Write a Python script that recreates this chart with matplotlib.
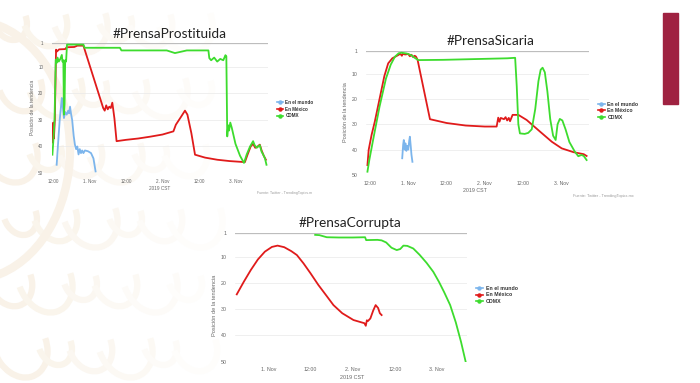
import matplotlib.pyplot as plt
from matplotlib.lines import Line2D
from matplotlib.patches import Arc, Rectangle

plt.rcParams['font.family'] = ['Liberation Sans', 'DejaVu Sans']

# horas contadas desde 2019-10-31 00:00 CST, posicion de la tendencia (1 = arriba)
series_names = ['En el mundo', 'En México', 'CDMX']
series_colors = ['#7cb5ec', '#e01b1b', '#3ddc2e']

# ---- #PrensaProstituida
pros_mundo_h = [13.2, 13.6, 14.2, 14.9, 15.2, 15.6, 16.0, 16.5, 17.0, 17.3, 17.6, 17.9,
                18.3, 18.8, 19.2, 19.6, 20.0, 20.4, 20.8, 21.2, 21.6, 22.0, 22.5, 23.5,
                24.5, 25.3, 26.0]
pros_mundo_pos = [46.9, 40, 30, 21.7, 25, 29.3, 27, 28, 26.5, 27.5, 25, 27.5,
                  30, 36, 39.3, 41, 40, 43, 41, 42.5, 41.5, 42.5, 41.5, 41.8,
                  42.5, 44.5, 49.4]
pros_mx_h = [11.9, 12.1, 12.3, 12.6, 13.0, 13.3, 14.0, 16.0, 16.5, 19.0, 20.0, 22.0,
             28.5, 29.0, 29.5, 30.0, 30.5, 31.0, 31.5, 31.8, 32.2, 32.9, 36, 40, 44, 48,
             51.6, 52.4, 54.0, 55.4, 56.2, 57.5, 58.7, 62, 66, 70, 75.1,
             76.0, 77.0, 77.8, 78.5, 79.3, 80.0, 80.6, 81.3, 82.0]
pros_mx_pos = [38.5, 31, 37, 30, 3.5, 4.2, 3.4, 3.3, 2.6, 2.5, 2.0, 2.0,
               25.5, 26.5, 24.5, 26, 25, 25.5, 23.5, 26, 29.5, 38, 37.5, 37, 36.3, 35.5,
               34.3, 31.8, 29, 26.5, 28, 35, 43.1, 44.2, 45, 45.5, 45.9,
               43, 40, 39, 40.5, 40, 39.3, 41.5, 43.5, 45]
pros_cdmx_h = [11.8, 12.1, 12.5, 12.9, 13.2, 13.5, 13.9, 14.4, 14.9, 15.1, 15.4, 15.6,
               15.8, 16.0, 16.3, 16.6, 22.0, 22.4, 34.0, 34.5, 49.4, 52.1, 56.0, 63.1,
               63.4, 64.0, 65.0, 66.0, 67.0, 68.0, 68.7, 69.0, 69.3, 69.6, 69.9, 70.3,
               70.8, 72.0, 73.5, 74.8, 75.7, 76.8, 77.8, 78.3, 79.0, 80.0, 80.6, 81.1,
               81.7, 82.2]
pros_cdmx_pos = [43.1, 38, 30, 7.3, 8.5, 6.5, 8, 7, 5.5, 8, 7.5, 28,
                 24, 7.5, 8, 1.6, 1.6, 2.8, 2.8, 3.8, 3.8, 4.8, 3.8, 3.8,
                 6.7, 7.5, 6.5, 8, 7, 7.5, 5.6, 6, 36.2, 32, 34, 31,
                 33, 39, 43.5, 46.2, 43, 40, 38, 39.5, 40.5, 39.5, 42, 43,
                 44.5, 46.9]

# ---- #PrensaSicaria
sic_mundo_h = [22.1, 22.4, 22.6, 22.9, 23.1, 23.4, 23.7, 24.0, 24.3, 24.5, 24.8, 25.0, 25.3]
sic_mundo_pos = [43.4, 38, 36.2, 40, 37.5, 40.5, 38.5, 40, 36.5, 34.9, 39, 42, 44.8]
sic_mx_h = [11.2, 11.6, 12.5, 13.5, 15.0, 16.5, 17.7, 19.0, 20.9, 21.5, 22.0, 22.3, 23.0,
            24.0, 24.5, 25.0, 25.5, 26.0, 26.4, 26.9, 30.8, 36, 42, 48, 51.7, 52.2,
            52.6, 53.0, 54.0, 54.5, 55.0, 55.5, 55.9, 56.7, 58.5, 61.1, 65.3, 69.0,
            72.1, 75.8, 79.0, 79.9]
sic_mx_pos = [46.1, 40, 34.2, 29, 20, 11, 6.0, 4, 2.7, 2.2, 3, 2.2, 2.5,
              2.3, 3.2, 2.6, 3.5, 3.0, 3.3, 4.5, 28, 29.5, 30.5, 30.9, 30.9, 27.4,
              29, 27.5, 28, 27.2, 28.5, 27.5, 28.8, 26.3, 26.3, 28.3, 32.9, 36.9,
              39.5, 41, 41.8, 42.5]
sic_cdmx_h = [11.2, 11.8, 13.0, 15.0, 17.0, 18.5, 19.8, 21.0, 21.9, 23.5, 25.0, 26.0,
              27.1, 35, 45, 55, 57.5, 58.0, 58.5, 59.0, 60.5, 61.6, 62.7, 63.8, 64.8,
              65.5, 66.1, 66.8, 67.6, 68.5, 69.4, 70.2, 70.8, 71.5, 72.3, 73.3, 74.5,
              76.2, 77.3, 78.3, 79.0, 79.9]
sic_cdmx_pos = [48.7, 44, 36, 23, 12, 6.5, 3.4, 2.0, 1.8, 2.1, 2.8, 3.8,
                4.7, 4.6, 4.3, 4.0, 3.8, 15, 30, 33.6, 33.8, 33.4, 32, 24, 13,
                8.5, 7.7, 9.5, 17, 28, 34.5, 36.2, 30, 27.9, 28.5, 32, 37,
                40.8, 42.6, 42.1, 42.5, 44.1]

# ---- #PrensaCorrupta
cor_mundo_h = []
cor_mundo_pos = []
cor_mx_h = [15.0, 17, 19, 21, 23, 25, 26.6, 28.5, 30.5, 32.1, 34, 36, 38.2, 40.5, 42.5,
            45, 48.2, 50.5, 51.3, 51.7, 52.0, 52.3, 53.0, 53.8, 54.5, 55.2, 55.7, 56.2]
cor_mx_pos = [24.3, 19.5, 15, 11, 8, 6.2, 5.7, 6.3, 7.8, 9.3, 12.5, 16.3, 20.7, 24.8, 28.4,
              31.5, 34.1, 35, 35.3, 36.3, 34.2, 34.5, 33.5, 30.5, 28.4, 29.5, 31.5, 32.2]
cor_cdmx_h = [37.3, 38.5, 40.6, 44, 48, 51.5, 51.8, 55, 56.2, 57.5, 59, 60.5, 61.5, 62.4,
              63.5, 65.2, 67, 69, 70.9, 72.5, 74, 75.7, 77.3, 78.8, 80.1]
cor_cdmx_pos = [1.6, 1.7, 2.5, 2.6, 2.6, 2.5, 3.6, 3.5, 3.7, 4.5, 6.5, 7.4, 7.0, 5.7,
                5.8, 6.8, 9.2, 12.3, 15.7, 19.5, 23.5, 28.4, 35, 42.5, 50]

pos_ticks = [1, 10, 20, 30, 40, 50]
time_ticks = [12, 24, 36, 48, 60, 72]
time_labels = ['12:00', '1. Nov', '12:00', '2. Nov', '12:00', '3. Nov']

W, H = 700, 383
fig = plt.figure(figsize=(W / 100, H / 100), dpi=100)
fig.patch.set_facecolor('white')


def fx(px):
    return px / W


def fy(py):
    return 1 - py / H


# fondo decorativo muy tenue a la izquierda (trazos curvos)
bg = fig.add_axes([0, 0, 1, 1], zorder=-5)
bg.set_xlim(0, W)
bg.set_ylim(H, 0)
bg.axis('off')
for i, cx in enumerate([10, 45, 80, 115, 150, 185]):
    for j, cy in enumerate([20, 85, 150, 215, 280, 345]):
        r = 16 + 5 * ((i + j) % 3)
        shade = ['#f9f2e8', '#faf5ec', '#fbf7f1', '#fcf9f4', '#fdfbf8', '#fefdfb'][i]
        bg.add_patch(Arc((cx + 10 * (j % 2), cy), 2 * r, 2.6 * r, angle=-25,
                         theta1=10, theta2=190, color=shade, lw=4.5))
bg.add_patch(Arc((-30, 150), 200, 260, theta1=-80, theta2=80, color='#f9f2e8', lw=6))
bg.add_patch(Rectangle((663, 12.7), 15, 91.3, color='#9f2241'))


def chart(left, top, right, bottom, xlim, ticks, labels, series, title, title_xy,
          ylab_xy, cst_xy, legend_xy, fs):
    ax = fig.add_axes([fx(left), fy(bottom), (right - left) / W, (bottom - top) / H])
    ax.patch.set_alpha(0)
    for (hs, ps), name, col in zip(series, series_names, series_colors):
        ax.plot(hs, ps, color=col, lw=1.3, label=name)
    ax.set_xlim(*xlim)
    ax.set_ylim(50, 1)
    ax.set_yticks(pos_ticks)
    ax.set_xticks(ticks, labels)
    for s in ax.spines.values():
        s.set_visible(False)
    ax.tick_params(axis='both', length=0, labelsize=fs, labelcolor='#666666')
    ax.tick_params(axis='y', pad=6)
    ax.tick_params(axis='x', pad=4)
    for v in pos_ticks[1:]:
        ax.axhline(v, color='#e9e9e9', lw=0.5, zorder=0)
    ax.axhline(1, color='#bdbdbd', lw=0.9, zorder=0)
    fig.text(fx(title_xy[0]), fy(title_xy[1]), title, family='Lato', fontsize=9.8,
             color='#222222', ha='center', va='center')
    fig.text(fx(ylab_xy[0]), fy(ylab_xy[1]), 'Posición de la tendencia', rotation=90,
             fontsize=fs + 0.3, color='#666666', ha='center', va='center')
    fig.text(fx(cst_xy[0]), fy(cst_xy[1]), '2019 CST', fontsize=fs + 0.1,
             color='#666666', ha='center', va='center')
    handles = [Line2D([], [], color=c, lw=1.2, marker='o', markersize=2.2)
               for c in series_colors]
    leg = ax.legend(handles, series_names, loc='upper left',
                    bbox_to_anchor=(fx(legend_xy[0]), fy(legend_xy[1])),
                    bbox_transform=fig.transFigure, frameon=False, fontsize=fs,
                    handlelength=1.3, handletextpad=0.5, labelspacing=0.35,
                    borderpad=0, borderaxespad=0)
    for t in leg.get_texts():
        t.set_fontweight('bold')
        t.set_color('#333333')
    return ax


chart(51.7, 43, 268, 173, (11.57, 82.7), time_ticks, time_labels,
      [(pros_mundo_h, pros_mundo_pos), (pros_mx_h, pros_mx_pos),
       (pros_cdmx_h, pros_cdmx_pos)],
      '#PrensaProstituida', (170, 34), (33, 107), (160, 188), (277, 100), 3.3)
fig.text(fx(257), fy(193), 'Fuente: Twitter - TrendingTopics.m', fontsize=2.6,
         color='#999999', ha='left', va='center')

chart(366, 50.7, 589, 175, (10.75, 80.65), time_ticks, time_labels,
      [(sic_mundo_h, sic_mundo_pos), (sic_mx_h, sic_mx_pos),
       (sic_cdmx_h, sic_cdmx_pos)],
      '#PrensaSicaria', (491, 40.7), (345.7, 112), (475, 190), (598, 101.5), 3.7)
fig.text(fx(573), fy(196), 'Fuente: Twitter - TrendingTopics.mx', fontsize=2.8,
         color='#999999', ha='left', va='center')

chart(235, 233.3, 466.7, 361.7, (14.5, 80.4), time_ticks[1:], time_labels[1:],
      [(cor_mundo_h, cor_mundo_pos), (cor_mx_h, cor_mx_pos),
       (cor_cdmx_h, cor_cdmx_pos)],
      '#PrensaCorrupta', (350, 223), (214, 305), (351.7, 377.7), (476, 285.5), 3.8)

fig.savefig('out.png', dpi=100)
